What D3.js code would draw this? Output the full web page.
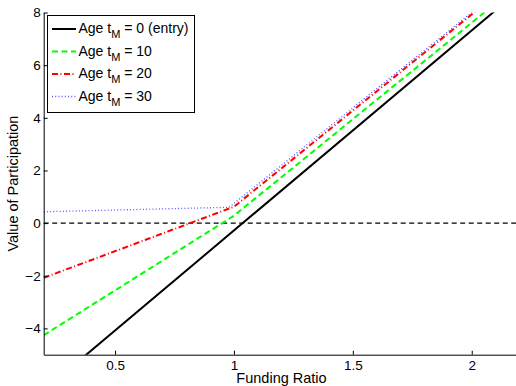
<!DOCTYPE html>
<html>
<head>
<meta charset="utf-8">
<script src="https://cdn.jsdelivr.net/npm/d3@7"></script>
<style>
  html, body { margin: 0; padding: 0; background: #fff; }
  svg { display: block; }
  text { font-family: "Liberation Sans", Arial, Helvetica, sans-serif; fill: #000; }
</style>
</head>
<body>
<svg id="chart" width="516" height="386"></svg>
<script>
// ---- data ----
const seriesNames = ["0 (entry)", "10", "20", "30"];
const fundingBlack = [0.2, 1.037, 2.2];
const valueBlack   = [-6.36, 0.0, 8.84];
const fundingGreen = [0.2, 1.0, 2.2];
const valueGreen   = [-4.26, 0.28, 9.08];
const fundingRed   = [0.2, 1.0, 2.2];
const valueRed     = [-2.08, 0.62, 9.39];
const fundingBlue  = [0.2, 0.98, 2.2];
const valueBlue    = [0.43, 0.60, 9.46];
const xTicks = [0.5, 1, 1.5, 2];
const xTickLabels = ["0.5", "1", "1.5", "2"];
const yTicks = [-4, -2, 0, 2, 4, 6, 8];
const yTickLabels = ["\u22124", "\u22122", "0", "2", "4", "6", "8"];
const xDomain = [0.2, 2.2];
const yDomain = [-5, 8];

// ---- styles ----
const styles = [
  { color: "#000000", width: 2,   dash: null },
  { color: "#00ff00", width: 2,   dash: "6,3.5" },
  { color: "#ff0000", width: 2,   dash: "6,2.5,1,2.5" },
  { color: "#5555ff", width: 1.3, dash: "1,2.2" }
];

const svg = d3.select("#chart");
const x = d3.scaleLinear().domain(xDomain).range([43.7, 519.3]);
const y = d3.scaleLinear().domain(yDomain).range([354.7, 12.5]);

const series = [
  d3.zip(fundingBlack, valueBlack),
  d3.zip(fundingGreen, valueGreen),
  d3.zip(fundingRed, valueRed),
  d3.zip(fundingBlue, valueBlue)
];

svg.append("clipPath").attr("id", "clip")
  .append("rect")
  .attr("x", x(xDomain[0])).attr("y", y(yDomain[1]))
  .attr("width", x(xDomain[1]) - x(xDomain[0]))
  .attr("height", y(yDomain[0]) - y(yDomain[1]));

const plot = svg.append("g").attr("clip-path", "url(#clip)");

// zero reference line
plot.append("line")
  .attr("x1", x(xDomain[0])).attr("x2", x(xDomain[1]))
  .attr("y1", y(0)).attr("y2", y(0))
  .attr("stroke", "#000").attr("stroke-width", 1.2)
  .attr("stroke-dasharray", "5,3.5");

const line = d3.line().x(d => x(d[0])).y(d => y(d[1]));
series.forEach((s, i) => {
  plot.append("path")
    .datum(s)
    .attr("d", line)
    .attr("fill", "none")
    .attr("stroke", styles[i].color)
    .attr("stroke-width", styles[i].width)
    .attr("stroke-dasharray", styles[i].dash);
});

// axes
const xAxis = d3.axisBottom(x)
  .tickValues(xTicks)
  .tickFormat((d, i) => xTickLabels[i])
  .tickSizeInner(-4).tickSizeOuter(0).tickPadding(6);
const yAxis = d3.axisLeft(y)
  .tickValues(yTicks)
  .tickFormat((d, i) => yTickLabels[i])
  .tickSizeInner(-4).tickSizeOuter(0).tickPadding(3);

const gx = svg.append("g").attr("transform", `translate(0,${y(yDomain[0])})`).call(xAxis);
const gy = svg.append("g").attr("transform", `translate(${x(xDomain[0])},0)`).call(yAxis);
[gx, gy].forEach(g => {
  g.selectAll("text").style("font-size", "13.5px").attr("fill", "#000");
  g.selectAll("line").attr("stroke", "#000");
  g.select(".domain").attr("stroke", "#000").attr("stroke-width", 1);
});

// axis labels
svg.append("text")
  .attr("x", (x(xDomain[0]) + x(xDomain[1])) / 2)
  .attr("y", 383)
  .attr("text-anchor", "middle")
  .style("font-size", "14.5px")
  .text("Funding Ratio");

svg.append("text")
  .attr("transform", `translate(18,${(y(yDomain[0]) + y(yDomain[1])) / 2}) rotate(-90)`)
  .attr("text-anchor", "middle")
  .style("font-size", "14.5px")
  .text("Value of Participation");

// legend
const legend = svg.append("g");
legend.append("rect")
  .attr("x", 47.5).attr("y", 15.5)
  .attr("width", 147).attr("height", 97)
  .attr("fill", "#fff").attr("stroke", "#000").attr("stroke-width", 1);

const rowY = [29, 51.5, 74, 96.5];
seriesNames.forEach((name, i) => {
  legend.append("line")
    .attr("x1", 52).attr("x2", 76)
    .attr("y1", rowY[i]).attr("y2", rowY[i])
    .attr("stroke", styles[i].color)
    .attr("stroke-width", styles[i].width)
    .attr("stroke-dasharray", styles[i].dash);
  const t = legend.append("text")
    .attr("x", 78.5).attr("y", rowY[i] + 4)
    .style("font-size", "14px");
  t.append("tspan").text("Age t");
  t.append("tspan").attr("dy", 5).style("font-size", "11px").text("M");
  t.append("tspan").attr("dy", -5).text("\u00a0= " + name);
});
</script>
</body>
</html>
